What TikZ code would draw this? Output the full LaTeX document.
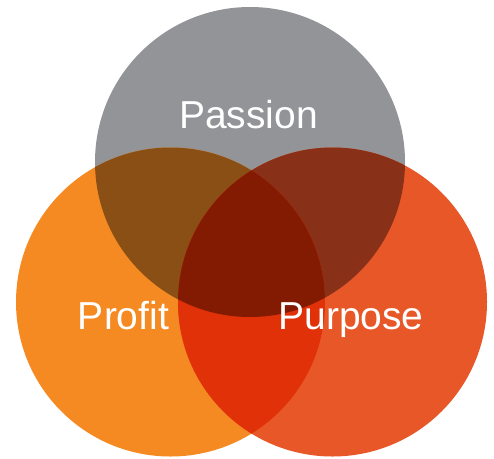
\documentclass[tikz,border=0pt]{standalone}
\usepackage{fontspec}
\setmainfont{Liberation Sans}
\definecolor{passiongray}{HTML}{939497}
\definecolor{profitorange}{HTML}{F58A22}
\definecolor{purposered}{HTML}{E85728}
\definecolor{pasprofit}{HTML}{8A4F15}
\definecolor{paspurpose}{HTML}{893019}
\definecolor{propurpose}{HTML}{E03108}
\definecolor{allthree}{HTML}{831A02}
\tikzset{
  vennlabel/.style={text=white, anchor=base, inner sep=0pt, font=\fontsize{39}{39}\selectfont}
}

\begin{document}
\begin{tikzpicture}[x=1pt, y=-1pt]
  \useasboundingbox (0,0) rectangle (494,458);
  \coordinate (pas) at (250,162);
  \coordinate (pro) at (170.5,302);
  \coordinate (pur) at (332.5,302);

  % the three circles
  \fill[passiongray] (pas) circle (155pt);
  \fill[profitorange] (pro) circle (154.5pt);
  \fill[purposered] (pur) circle (154.5pt);

  % pairwise overlaps
  \begin{scope}
    \clip (pas) circle (155pt);
    \fill[pasprofit] (pro) circle (154.5pt);
    \fill[paspurpose] (pur) circle (154.5pt);
  \end{scope}
  \begin{scope}
    \clip (pro) circle (154.5pt);
    \fill[propurpose] (pur) circle (154.5pt);
  \end{scope}

  % middle
  \begin{scope}
    \clip (pas) circle (155pt);
    \clip (pro) circle (154.5pt);
    \fill[allthree] (pur) circle (154.5pt);
  \end{scope}

  \node[vennlabel] (passion) at (248.5,128) {Passion};
  \node[vennlabel] (profit) at (123.5,329) {Profit};
  \node[vennlabel] (purpose) at (351,329) {Purpose};
\end{tikzpicture}
\end{document}
